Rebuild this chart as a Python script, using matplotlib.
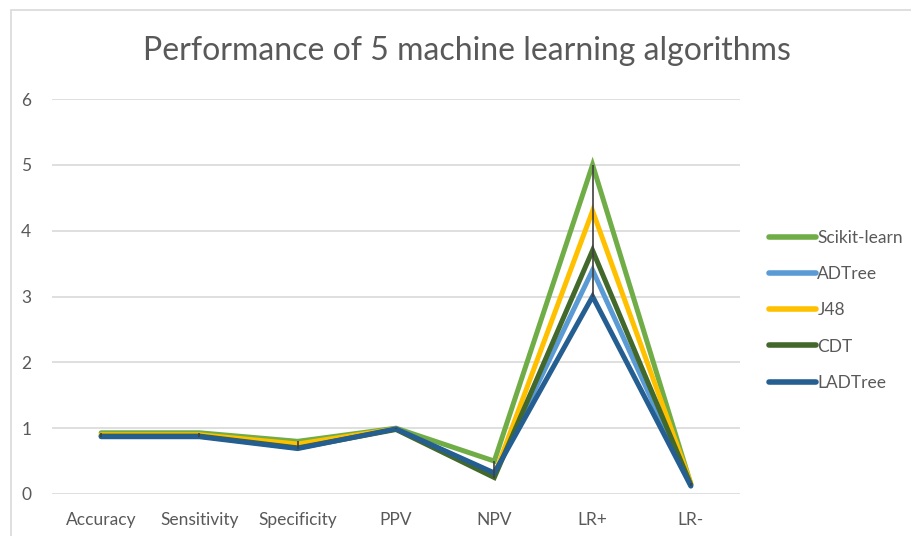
import matplotlib
matplotlib.use("Agg")
import matplotlib.pyplot as plt
from matplotlib.patches import Rectangle
import numpy as np

categories = ["Accuracy", "Sensitivity", "Specificity", "PPV", "NPV", "LR+", "LR-"]
series_names = ["Scikit-learn", "ADTree", "J48", "CDT", "LADTree"]
scikit = [0.93, 0.93, 0.80, 1.00, 0.50, 5.00, 0.15]
adtree = [0.88, 0.88, 0.72, 0.99, 0.30, 3.40, 0.13]
j48 = [0.90, 0.90, 0.76, 0.99, 0.28, 4.30, 0.16]
cdt = [0.88, 0.88, 0.70, 0.98, 0.25, 3.70, 0.14]
ladtree = [0.87, 0.87, 0.69, 0.99, 0.32, 3.00, 0.12]
yticks = [0, 1, 2, 3, 4, 5, 6]

colors = ["#70AD47", "#5B9BD5", "#FFC000", "#43682B", "#255E91"]
all_series = [scikit, adtree, j48, cdt, ladtree]

plt.rcParams['font.family'] = ['Lato', 'DejaVu Sans']
fig = plt.figure(figsize=(9.11, 5.36), dpi=100)
fig.patches.append(Rectangle((11/911, -0.1), 1.0, 1 - 10/536 + 0.1, transform=fig.transFigure,
                             fill=False, edgecolor="#D9D9D9", lw=1.2))
ax = fig.add_axes([52/911, 1 - 494/536, 688/911, (494 - 99)/536])

x = np.arange(len(categories))
arr = np.array(all_series)
ax.vlines(x, arr.min(axis=0), arr.max(axis=0), color="#404040", lw=1.2, zorder=4)
for name, vals, c in zip(series_names, all_series, colors):
    ax.plot(x, vals, color=c, lw=3.6, label=name, solid_capstyle="round",
            solid_joinstyle="miter", zorder=3)

ax.set_xlim(-0.5, len(categories) - 0.5)
ax.set_ylim(0, 6)
ax.set_yticks(yticks)
ax.set_xticks(x)
ax.set_xticklabels(categories)
ax.grid(axis="y", color="#D9D9D9", lw=1.2)
ax.set_axisbelow(True)
for s in ax.spines.values():
    s.set_visible(False)
ax.tick_params(length=0, labelsize=12.5, colors="#595959", pad=13)
ax.tick_params(axis="y", pad=15)

fig.text(467/911, 1 - 51/536, "Performance of 5 machine learning algorithms",
         ha="center", va="center", fontsize=23, color="#595959")

leg = fig.legend(loc="upper left", bbox_to_anchor=(753/911, 1 - 214/536), frameon=False,
                 fontsize=12.5, handlelength=2.7, handletextpad=0.1, labelspacing=1.17,
                 labelcolor="#595959")
for h in leg.get_lines():
    h.set_linewidth(4)
    h.set_solid_capstyle("round")

fig.savefig("out.png", dpi=100)
